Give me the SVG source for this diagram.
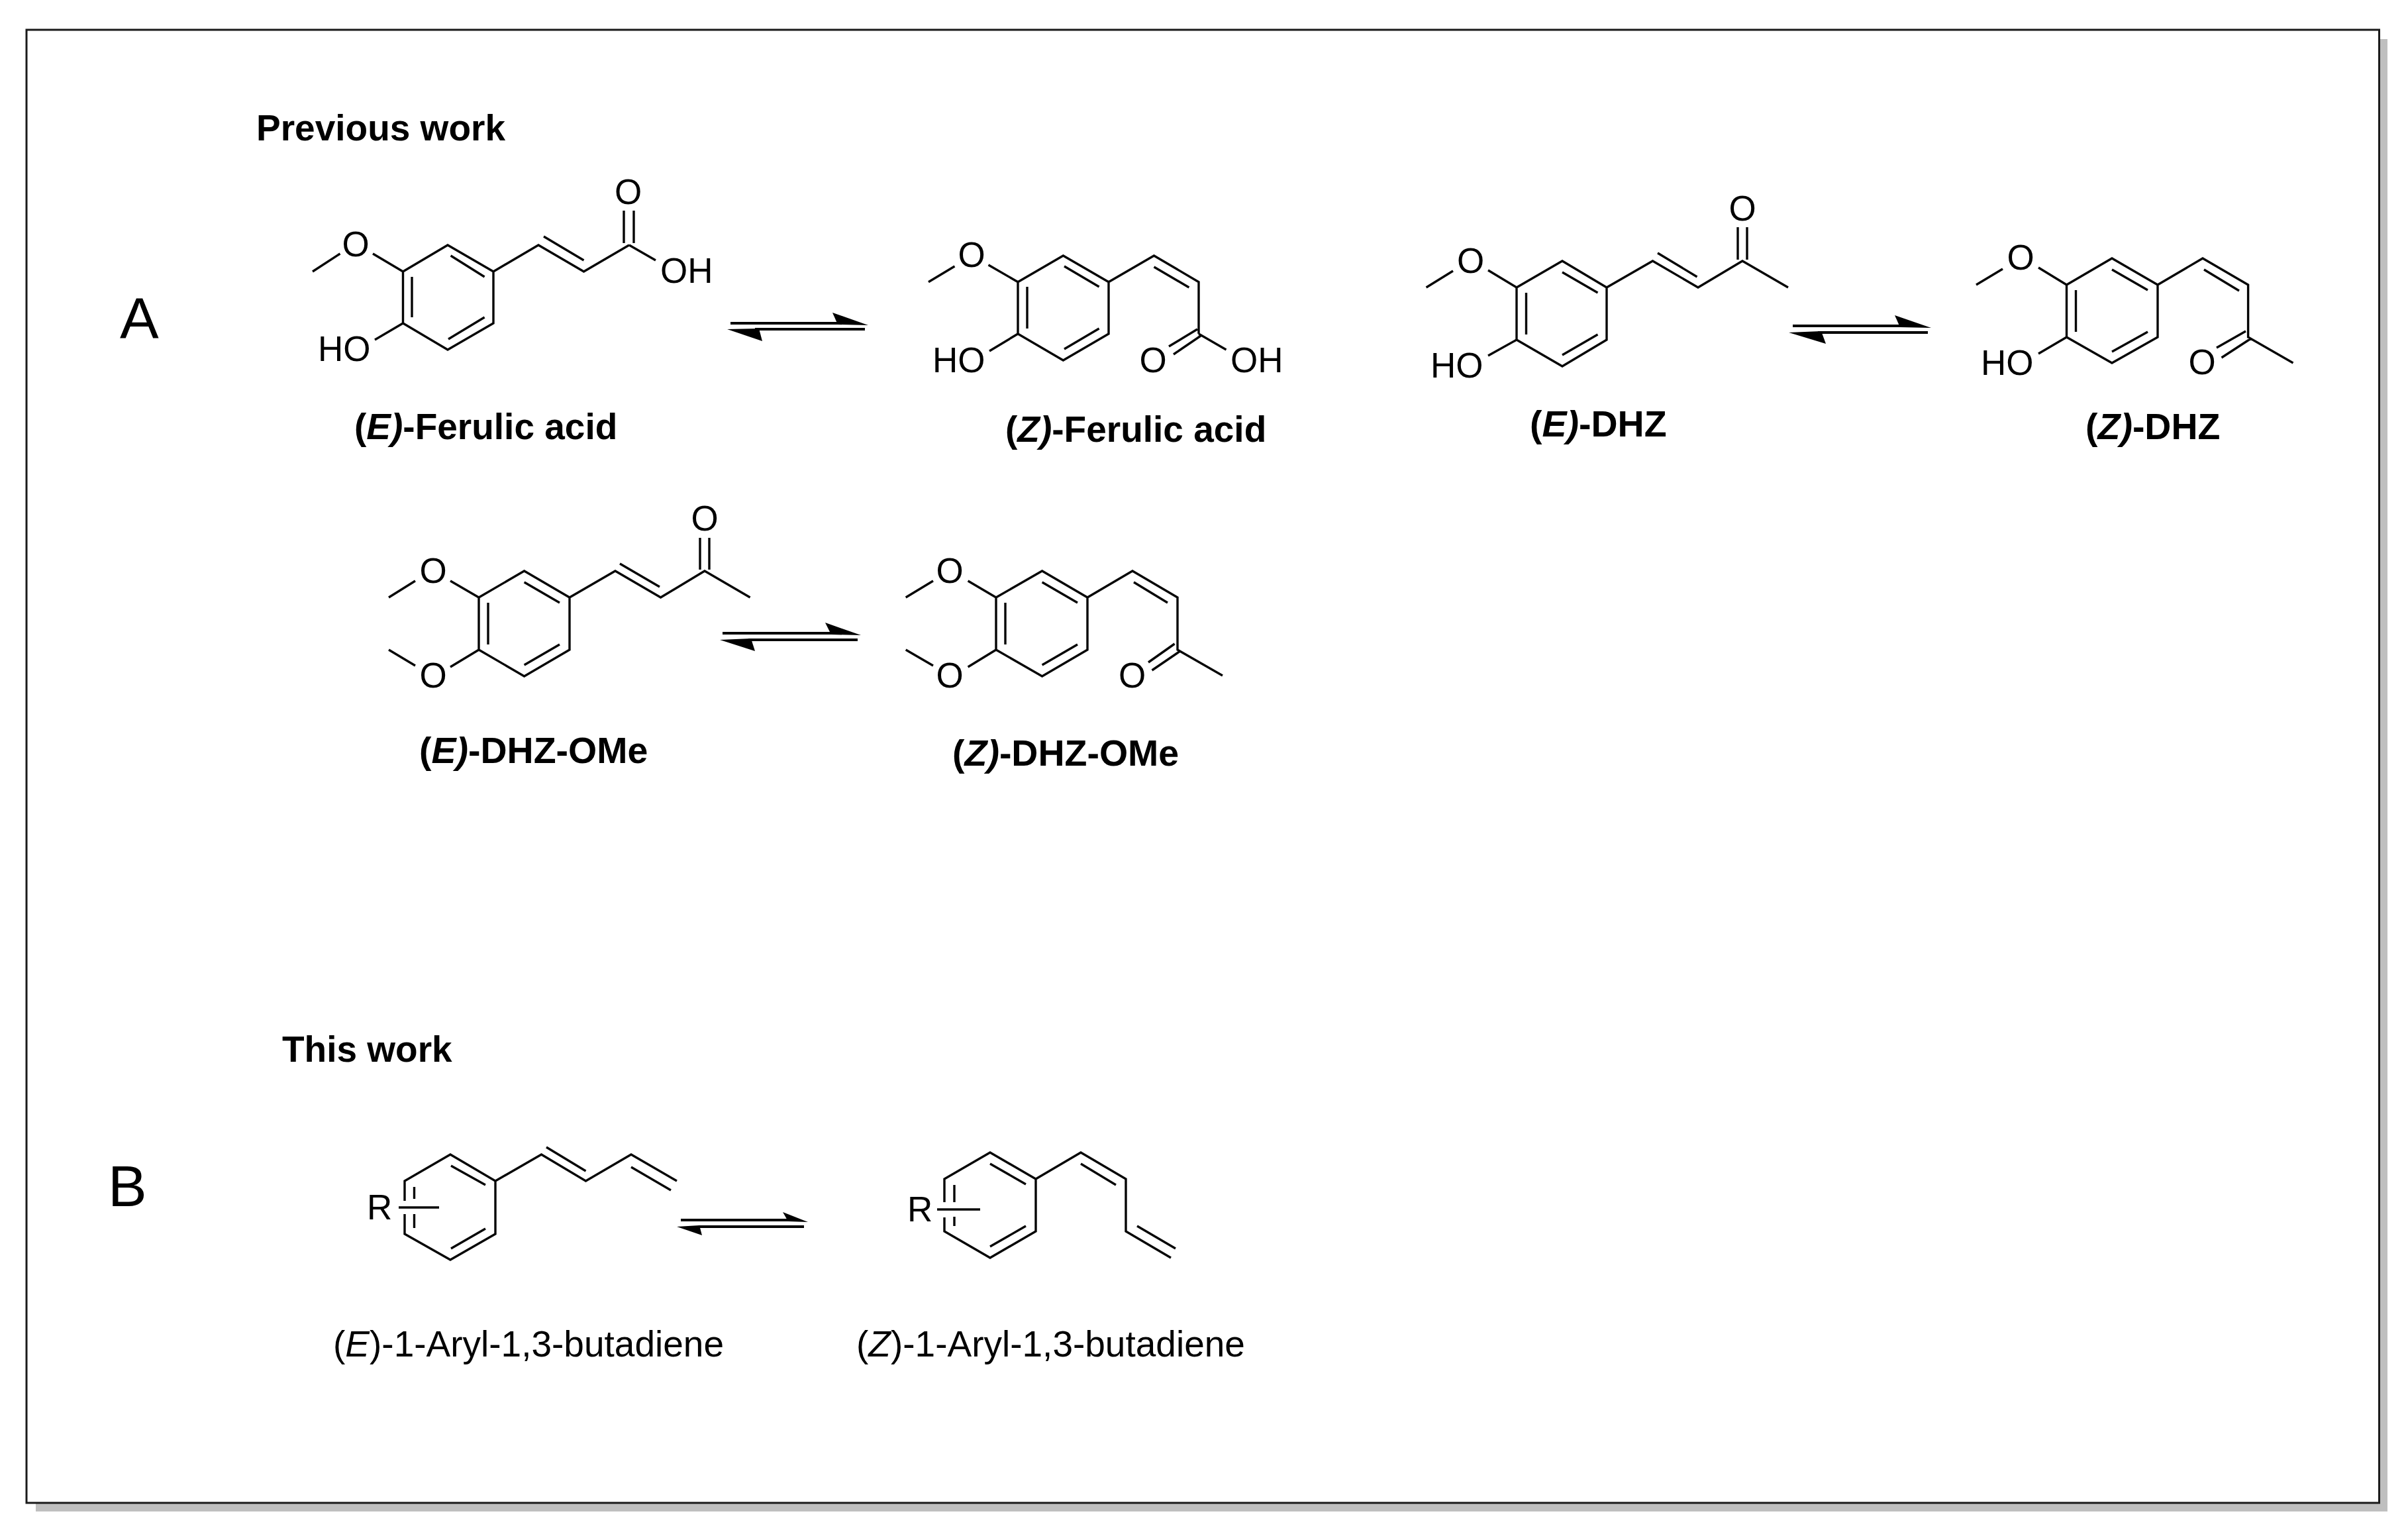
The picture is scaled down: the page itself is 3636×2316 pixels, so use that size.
<svg xmlns="http://www.w3.org/2000/svg" width="3636" height="2316" viewBox="0 0 3636 2316">
<style>
text{font-family:"Liberation Sans",Arial,sans-serif;fill:#000}
.a{font-size:53px}
.m{text-anchor:middle}
.l{font-size:55px;font-weight:bold}
.d{font-size:55.5px;font-weight:bold}
.n{font-size:55px}
.p{font-size:88px}
.i{font-style:italic}
.b{fill:none;stroke:#050505;stroke-width:3.4}
.r{fill:none;stroke:#000;stroke-width:4}
.h{fill:#000;stroke:none}
</style>
<rect id="shadow" x="54" y="59" width="3551" height="2223" fill="#bfbfbf"/>
<rect id="frame" x="40" y="45" width="3552.5" height="2224" fill="#fff" stroke="#1a1a1a" stroke-width="3"/>
<text class="l" x="387" y="212">Previous work</text>
<text class="l" x="426" y="1603">This work</text>
<text class="p" x="181" y="511">A</text>
<text class="p" x="163" y="1821">B</text>
<g id="E-ferulic-acid">
<path class="b" d="M745 410L676 370L608.5 410V488L676 528L745 488ZM680.6 386L731.6 418M622 418V479M677 512L731.6 479M745 410L813 370L881.5 410L950 370M821 357L881.5 393M942 318V367M957 318V367M950 370L990 393M608.5 410L563 383M513.5 383L472 410M608.5 488L566 513"/>
<text class="a m" x="948.5" y="308">O</text>
<text class="a" x="997" y="427">OH</text>
<text class="a m" x="537" y="387">O</text>
<text class="a" x="480" y="545">HO</text>
<text class="l" x="535" y="663">(<tspan class="i">E)</tspan>-Ferulic acid</text>
</g>
<g id="Z-ferulic-acid">
<path class="b" d="M1674 425.7L1605.4 386L1537 425.7V504L1605.4 544L1674 504ZM1607 402L1659.6 433M1551 433V496M1607 527L1659.6 496M1674 425.7L1742.5 386L1810 425.7V504M1742.5 403L1795.4 434M1808 497L1765 523M1813 507L1772 535M1810 504L1851.5 528M1537 425.7L1492.5 400M1441.5 402L1402 425.7M1537 504L1494 530"/>
<text class="a m" x="1741" y="562">O</text>
<text class="a" x="1858" y="562">OH</text>
<text class="a m" x="1467" y="403">O</text>
<text class="a" x="1408" y="562">HO</text>
<text class="l" x="1518" y="667">(<tspan class="i">Z)</tspan>-Ferulic acid</text>
</g>
<g id="E-DHZ">
<path class="b" d="M2426 434L2359 394L2290 434V513L2359 553L2426 513ZM2359 411L2412.5 442M2304.5 442V505M2359 536L2412.5 505M2426 434L2495.5 394L2564 434L2631 394L2700 434M2503 382L2562.5 418M2624 343V392M2638 343V392M2290 434L2247 408M2194 409L2153.6 434M2290 513L2247 537"/>
<text class="a m" x="2631" y="333">O</text>
<text class="a m" x="2220.5" y="412">O</text>
<text class="a" x="2160" y="570">HO</text>
<text class="d" x="2310" y="659">(<tspan class="i">E)</tspan>-DHZ</text>
</g>
<g id="Z-DHZ">
<path class="b" d="M3258 430L3189 390L3120.5 430V509L3189 548L3258 509ZM3189 407L3243 438M3134.5 438V501M3189 531L3243 501M3258 430L3326 390L3394.6 430V509L3462.5 548M3328 407L3381 439M3391 500L3347 525M3399 511L3354.5 540M3120.5 430L3078 404M3024 406L2984 430M3120.5 509L3078 534"/>
<text class="a m" x="3325" y="565">O</text>
<text class="a m" x="3051" y="407">O</text>
<text class="a" x="2991" y="566">HO</text>
<text class="d" x="3149" y="663">(<tspan class="i">Z)</tspan>-DHZ</text>
</g>
<g id="E-DHZ-OMe">
<path class="b" d="M860 902L791.6 862L723 902V981L791.6 1021L860 981ZM791.6 879L845 910M737 910V973M791.6 1004L845 973M860 902L929 862L997.6 902L1064 862L1132.6 902M936 851L996 886M1057 812V860M1071 812V860M723 902L680 877M627 877L587 902M723 981L680 1007M627 1005L587 981"/>
<text class="a m" x="1064" y="801">O</text>
<text class="a m" x="654" y="880">O</text>
<text class="a m" x="654" y="1038">O</text>
<text class="d" x="633" y="1152">(<tspan class="i">E)</tspan>-DHZ-OMe</text>
</g>
<g id="Z-DHZ-OMe">
<path class="b" d="M1642 902L1573.6 862L1504 902V981L1573.6 1021L1642 981ZM1573.6 879L1627 910M1518 910V973M1573.6 1004L1627 973M1642 902L1710 862L1778 902V981L1846 1020M1712 879L1763 910M1773.6 972L1734 1000M1782 983L1739.5 1012M1504 902L1461.6 877M1409 877L1367.7 902M1504 981L1461.6 1007M1409 1005L1367.7 981"/>
<text class="a m" x="1709.5" y="1038">O</text>
<text class="a m" x="1434" y="880">O</text>
<text class="a m" x="1434" y="1038">O</text>
<text class="d" x="1438" y="1156">(<tspan class="i">Z)</tspan>-DHZ-OMe</text>
</g>
<g id="E-aryl-butadiene">
<path class="b" d="M611 1813V1783L680 1743L748 1783V1863L680 1902L611 1863V1833M681 1760L733 1789M625.5 1792V1810M625.5 1833V1854M681 1885L733 1855M602 1823H663M748 1783L817.5 1743L884.5 1783L953 1743L1022 1783M825 1732L884.5 1768M953 1762L1013 1797"/>
<text class="a" x="554" y="1841">R</text>
<text class="n" x="503" y="2048">(<tspan class="i">E</tspan>)-1-Aryl-1,3-butadiene</text>
</g>
<g id="Z-aryl-butadiene">
<path class="b" d="M1426 1815V1780L1495 1740L1564 1780V1859L1495 1899L1426 1859V1838M1495 1757L1549 1788M1441 1789V1815M1441 1837V1851M1495 1882L1549 1851M1415 1826H1480M1564 1780L1632 1740L1700 1780V1859L1768 1899M1632 1757L1685 1789M1717 1851L1775 1885"/>
<text class="a" x="1370" y="1844">R</text>
<text class="n" x="1293" y="2048">(<tspan class="i">Z</tspan>)-1-Aryl-1,3-butadiene</text>
</g>
<g id="connectors">
<path class="r" d="M1103 488H1270M1306 497H1140"/>
<polygon class="h" points="1311,491 1257,472 1265,490"/>
<polygon class="h" points="1098,497 1151,515 1146,496"/>
<path class="r" d="M2707 492H2870M2911 502H2745"/>
<polygon class="h" points="2916,495 2861,476 2869,494"/>
<polygon class="h" points="2701,502 2757,519 2750,500"/>
<path class="r" d="M1091 956H1255M1295 966H1130"/>
<polygon class="h" points="1300,959 1246,940 1255,958"/>
<polygon class="h" points="1087,966 1140,983 1134,964"/>
<path class="r" d="M1028 1842H1190M1214 1852H1055"/>
<polygon class="h" points="1220,1845 1182,1830 1190,1844"/>
<polygon class="h" points="1022,1852 1060,1865 1056,1850"/>
</g>
</svg>
